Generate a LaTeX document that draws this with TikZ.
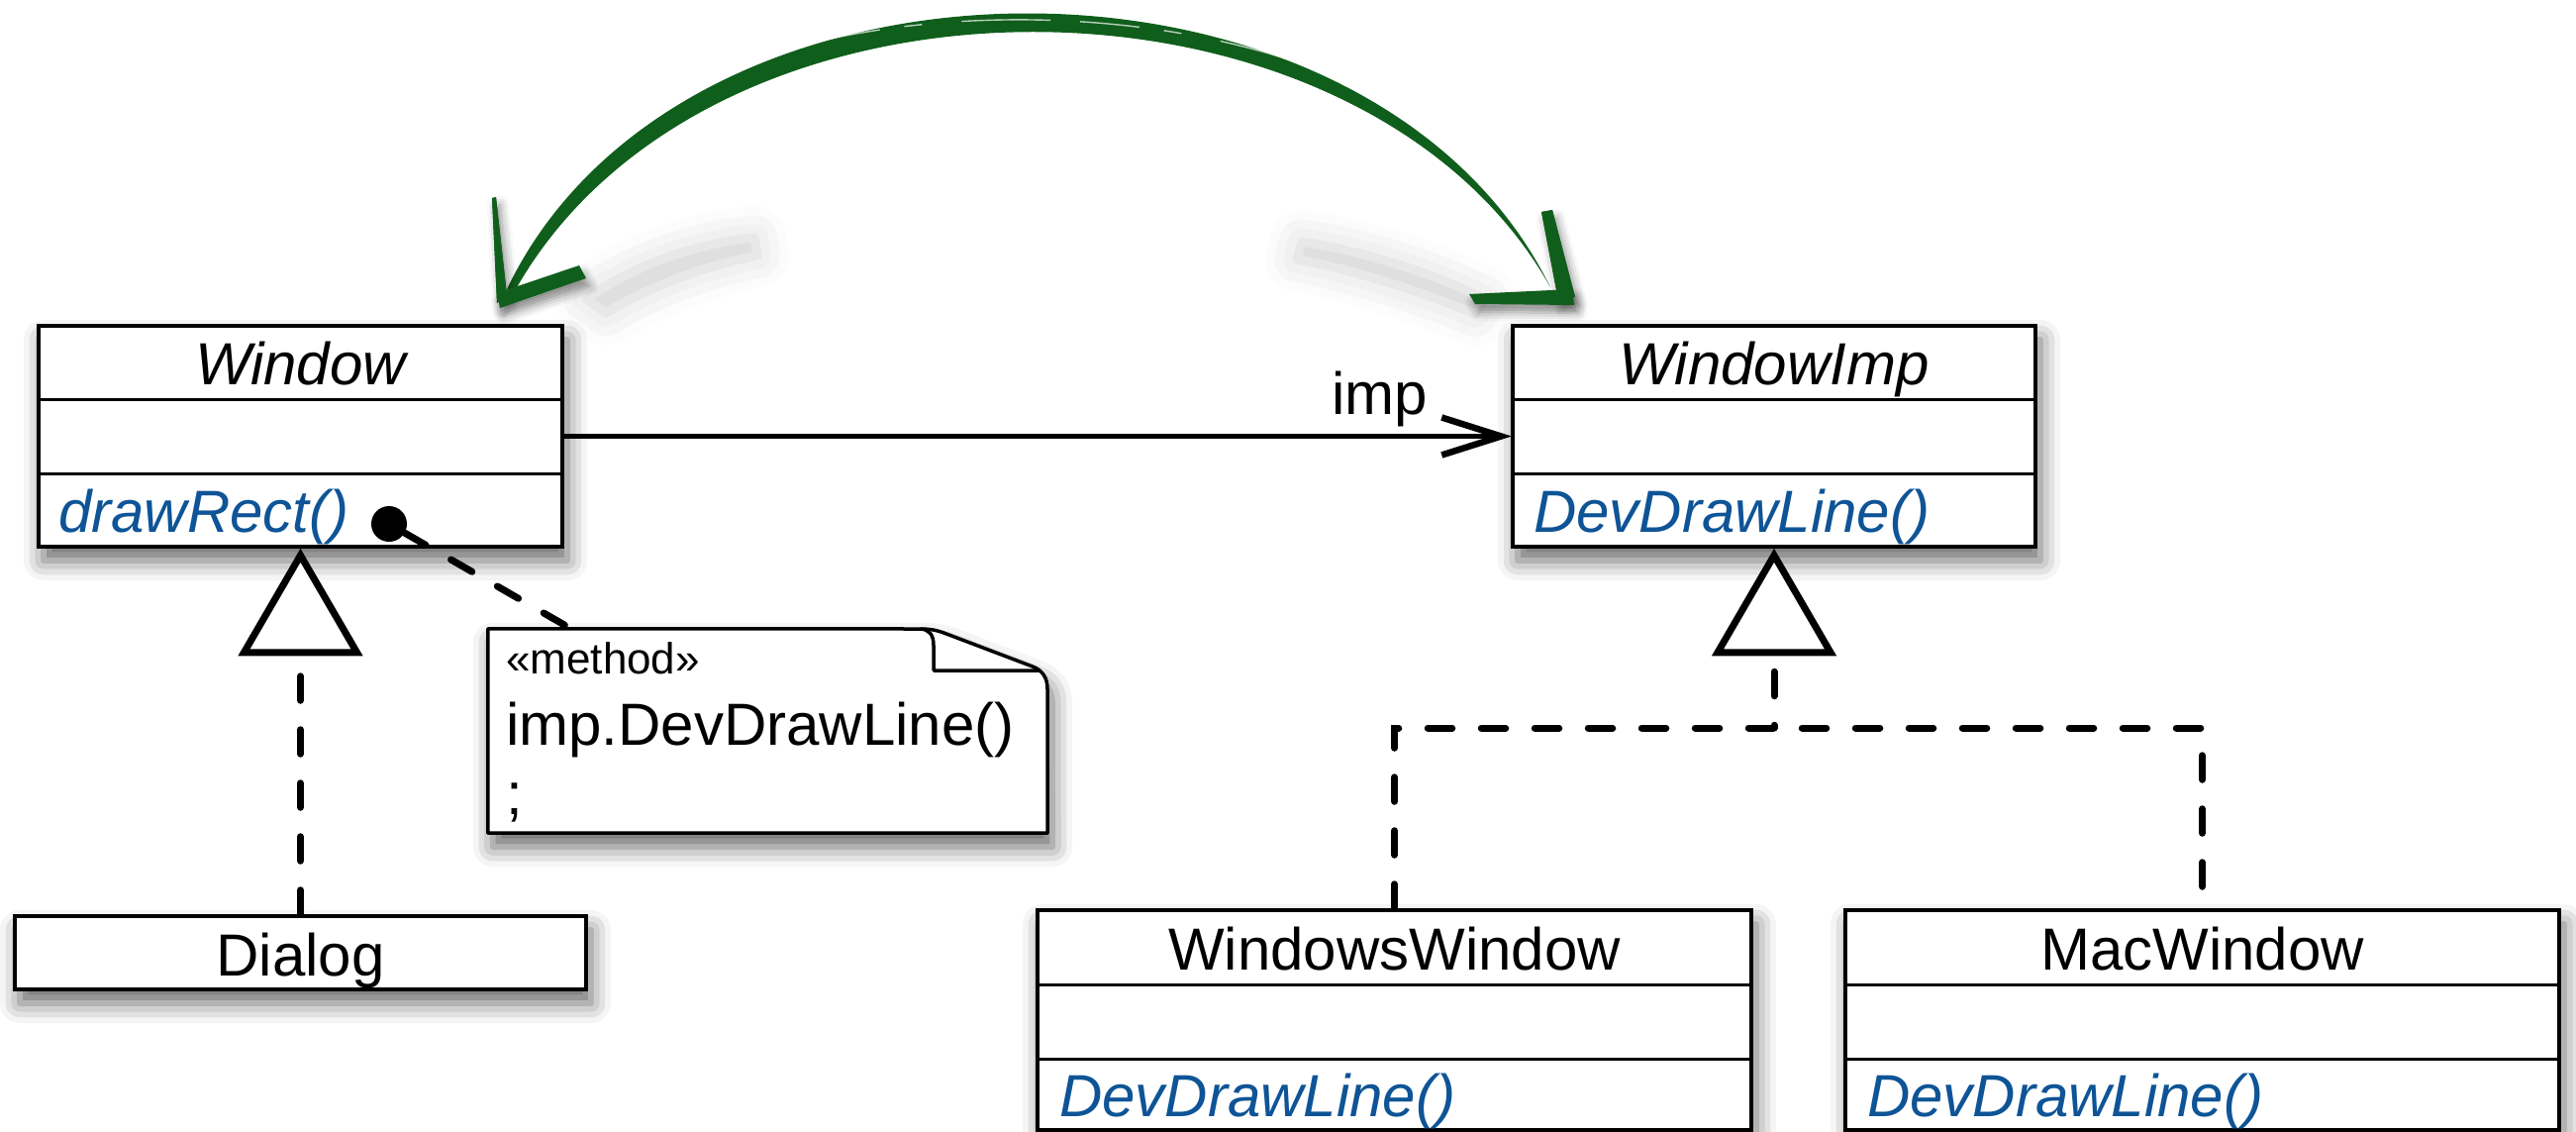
\documentclass[tikz,border=0pt]{standalone}
\usepackage{fontspec}
\setmainfont{Liberation Sans}
\usetikzlibrary{calc,shadows.blur}
\definecolor{methblue}{RGB}{14,84,150}
\definecolor{brushgreen}{RGB}{16,94,28}
\tikzset{
  boxshadow/.style={blur shadow={shadow xshift=5pt, shadow yshift=-14pt, shadow blur radius=20pt, shadow opacity=60}},
  classbox/.style={draw=black, line width=3.5pt, fill=white, rectangle, inner sep=0pt, boxshadow},
  divider/.style={line width=3pt},
  txt/.style={inner sep=0pt, font=\fontsize{60}{72}\selectfont},
  ttl/.style={txt, anchor=base},
  ittl/.style={inner sep=0pt, anchor=base, font=\fontsize{60}{72}\selectfont\itshape},
  meth/.style={inner sep=0pt, anchor=base west, text=methblue, font=\fontsize{60}{72}\selectfont\itshape},
  dashconn/.style={line width=7pt, line cap=round, dash pattern=on 24.5pt off 29.5pt},
  inhtri/.style={line width=7pt, fill=white, line join=miter},
  assocline/.style={line width=5.5pt},
  assochead/.style={line width=6.5pt, line join=miter, miter limit=20},
  greenshadow/.style={blur shadow={shadow xshift=0pt, shadow yshift=0pt, shadow blur radius=32pt, shadow opacity=18}},
  headshadow/.style={blur shadow={shadow xshift=4pt, shadow yshift=-8pt, shadow blur radius=9pt, shadow opacity=45}},
}
\begin{document}
\begin{tikzpicture}[x=1pt,y=-1pt]
\useasboundingbox (0,0) rectangle (2602,1143);

% ---------- green brush arrow (shadows first) ----------
\path[greenshadow] (592,302) .. controls (640,268) and (700,246) .. (762,240) -- (765,258) .. controls (705,270) and (652,292) .. (612,316) -- cycle;
\path[greenshadow] (1315,244) .. controls (1380,254) and (1448,276) .. (1500,302) -- (1490,317) .. controls (1438,296) and (1375,274) .. (1310,262) -- cycle;

\fill[brushgreen] (512,292) .. controls (690,-80) and (1385,-78) .. (1566,290)
   .. controls (1375,-50) and (720,-58) .. (521,292) -- cycle;
\draw[white, opacity=.7, line width=1.4pt, dash pattern=on 60pt off 25pt on 18pt off 40pt on 90pt off 30pt]
   (600,160) .. controls (760,-30) and (1320,-30) .. (1500,180);
\draw[white, opacity=.6, line width=1pt, dash pattern=on 35pt off 50pt on 70pt off 20pt]
   (640,120) .. controls (790,-42) and (1300,-44) .. (1460,130);

% arrow heads of the brush arrow
\path[headshadow, fill=brushgreen] (497,200) -- (501,199) -- (512,298) -- (502,306) -- cycle;
\path[headshadow, fill=brushgreen] (502,296) -- (585,268) -- (592,281) -- (505,311) -- cycle;
\path[headshadow, fill=brushgreen] (1557,214) -- (1568,212) -- (1591,300) -- (1574,303) -- cycle;
\path[headshadow, fill=brushgreen] (1484,297) -- (1588,292) -- (1590,308) -- (1490,307) -- cycle;
\fill[brushgreen] (497,200) -- (501,199) -- (512,298) -- (502,306) -- cycle;
\fill[brushgreen] (1557,214) -- (1568,212) -- (1591,300) -- (1574,303) -- cycle;

% ---------- classes ----------
\node[classbox, minimum width=529pt, minimum height=223pt] (window) at (303.5,440.5) {};
\draw[divider] (39,403) -- (568,403);
\draw[divider] (39,478) -- (568,478);
\node[ittl] (windowname) at (303.5,388) {Window};
\node[meth] (windowop) at (59,537) {drawRect()};

\node[classbox, minimum width=528pt, minimum height=223pt] (wimp) at (1792,440.5) {};
\draw[divider] (1528,403) -- (2056,403);
\draw[divider] (1528,478) -- (2056,478);
\node[ittl] (wimpname) at (1792,388) {WindowImp};
\node[meth] (wimpop) at (1549,537) {DevDrawLine()};

\node[classbox, minimum width=577pt, minimum height=74pt] (dialog) at (303.5,962) {};
\node[ttl] (dialogname) at (303.5,985) {Dialog};

\node[classbox, minimum width=721pt, minimum height=222pt] (wwin) at (1408.5,1030) {};
\draw[divider] (1048,994) -- (1769,994);
\draw[divider] (1048,1069) -- (1769,1069);
\node[ttl] (wwinname) at (1408.5,979) {WindowsWindow};
\node[meth] (wwinop) at (1070,1127) {DevDrawLine()};

\node[classbox, minimum width=721pt, minimum height=222pt] (mwin) at (2224.5,1030) {};
\draw[divider] (1864,994) -- (2585,994);
\draw[divider] (1864,1069) -- (2585,1069);
\node[ttl] (mwinname) at (2224.5,979) {MacWindow};
\node[meth] (mwinop) at (1886,1127) {DevDrawLine()};

% ---------- note ----------
\node[inner sep=0pt, minimum width=565pt, minimum height=206pt] (note) at (775.5,738) {};
\draw[line width=3.5pt, fill=white, line join=round, boxshadow]
  (note.north west) -- (930,635) .. controls (942,635) and (948,637) .. (956,640)
  -- (1043,673) .. controls (1053,677) and (1058,684) .. (1058,696)
  -- (note.south east) -- (note.south west) -- cycle;
\draw[line width=3.5pt, line join=round] (930,635) .. controls (939,636) and (943,641) .. (943,652) -- (943,677) -- (1050,677);
\node[inner sep=0pt, anchor=base west, font=\fontsize{44}{52}\selectfont] (stereo) at (511,680) {«method»};
\node[txt, anchor=base west] (notebody) at (511,752) {imp.DevDrawLine()};
\node[txt, anchor=base west] (notesemi) at (511,822) {;};
\coordinate (notetop) at (577,635);

% ---------- connectors ----------
\node[circle, fill=black, inner sep=0pt, minimum size=36pt] (dot) at (393,529) {};
\draw[dashconn] (dot) -- (notetop);

% association
\coordinate (tip) at ($(wimp.west)+(-10,0)$);
\draw[assocline] (window.east) -- (tip);
\draw[assochead] ($(tip)+(-60,-19)$) -- (tip) -- ($(tip)+(-60,19)$);
\node[txt, anchor=base west] (implabel) at (1345,418) {imp};

% generalisation Window <- Dialog
\draw[inhtri] ($(window.south)+(0,7)$) coordinate (wtritop) -- ++(-57,98) -- ++(114,0) -- cycle;
\coordinate (wtribase) at ($(window.south)+(0,105)$);
\draw[dashconn] (dialog.north) -- (wtribase);

% generalisation WindowImp <- WindowsWindow, MacWindow
\draw[inhtri] ($(wimp.south)+(0,7)$) coordinate (itritop) -- ++(-57,98) -- ++(114,0) -- cycle;
\coordinate (itribase) at ($(wimp.south)+(0,105)$);
\coordinate (junction) at (1792,735);
\draw[dashconn, dash phase=34.5pt] (itribase) -- (junction);
\draw[dashconn] (wwin.north) -- (wwin.north |- junction) -- (mwin.north |- junction) -- (mwin.north);
\end{tikzpicture}
\end{document}
